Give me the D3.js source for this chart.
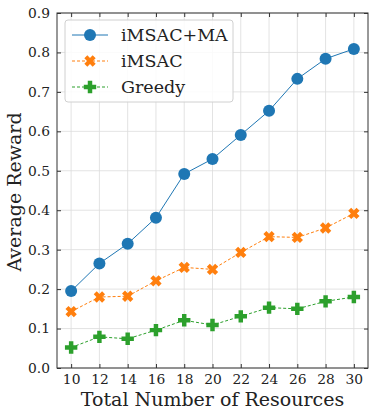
<!DOCTYPE html>
<html><head><meta charset="utf-8">
<script src="https://cdn.jsdelivr.net/npm/d3@7"></script>
<style>body{margin:0;background:#fff}svg{display:block}</style>
</head><body>
<script>
const xValues = [10,12,14,16,18,20,22,24,26,28,30];
const seriesNames = ["iMSAC+MA","iMSAC","Greedy"];
const imsacMA = [0.195,0.265,0.315,0.381,0.492,0.530,0.591,0.652,0.733,0.784,0.809];
const imsac = [0.143,0.180,0.182,0.221,0.255,0.250,0.293,0.333,0.331,0.355,0.392];
const greedy = [0.052,0.079,0.074,0.096,0.121,0.109,0.131,0.153,0.150,0.169,0.180];
const yTicks = [0,0.1,0.2,0.3,0.4,0.5,0.6,0.7,0.8,0.9];
const colors = ["#1f77b4","#ff7f0e","#2ca02c"];
const markers = ["circle","x","plus"];
const dashes = [null,"3,2","3,2"];

const W=374,H=415;
const m={l:57,r:6,t:13,b:47};
const svg=d3.select("body").append("svg").attr("width",W).attr("height",H);
const x=d3.scaleLinear().domain([9,31]).range([m.l,W-m.r]);
const y=d3.scaleLinear().domain([0,0.9]).range([H-m.b,m.t]);
const font="DejaVu Serif, serif";

// grid
svg.append("g").selectAll("line").data(xValues).join("line")
  .attr("x1",d=>x(d)).attr("x2",d=>x(d)).attr("y1",m.t).attr("y2",H-m.b)
  .attr("stroke","#dcdcdc").attr("stroke-width",0.8);
svg.append("g").selectAll("line").data(yTicks).join("line")
  .attr("y1",d=>y(d)).attr("y2",d=>y(d)).attr("x1",m.l).attr("x2",W-m.r)
  .attr("stroke","#dcdcdc").attr("stroke-width",0.8);

// axes
function styleAxis(g){g.select(".domain").remove();g.selectAll("line").attr("stroke","#333").attr("stroke-width",1);
  g.selectAll("text").attr("font-family",font).attr("font-size",13.8).attr("fill","#222");}
svg.append("g").attr("transform",`translate(0,${H-m.b})`)
  .call(d3.axisBottom(x).tickValues(xValues).tickSize(-4).tickPadding(6.5)).call(styleAxis);
svg.append("g").attr("transform",`translate(0,${m.t})`)
  .call(d3.axisTop(x).tickValues(xValues).tickSize(-4).tickFormat("")).call(styleAxis);
svg.append("g").attr("transform",`translate(${m.l},0)`)
  .call(d3.axisLeft(y).tickValues(yTicks).tickSize(-4).tickPadding(7).tickFormat(d3.format(".1f"))).call(styleAxis);
svg.append("g").attr("transform",`translate(${W-m.r},0)`)
  .call(d3.axisRight(y).tickValues(yTicks).tickSize(-4).tickFormat("")).call(styleAxis);
svg.append("rect").attr("x",m.l).attr("y",m.t).attr("width",W-m.r-m.l).attr("height",H-m.b-m.t)
  .attr("fill","none").attr("stroke","#333").attr("stroke-width",1);

function markerPath(type,s){
  const a=s, w=s*0.36;
  const pts=[[-w,-a],[w,-a],[w,-w],[a,-w],[a,w],[w,w],[w,a],[-w,a],[-w,w],[-a,w],[-a,-w],[-w,-w]];
  if(type==="plus") return "M"+pts.map(p=>p.join(",")).join("L")+"Z";
  const c=Math.SQRT1_2;
  return "M"+pts.map(p=>[(p[0]-p[1])*c*0.95,(p[0]+p[1])*c*0.95].join(",")).join("L")+"Z";
}
function drawMarker(g,type,cx,cy,color){
  if(type==="circle") g.append("circle").attr("cx",cx).attr("cy",cy).attr("r",6).attr("fill",color);
  else g.append("path").attr("d",markerPath(type,6.2)).attr("transform",`translate(${cx},${cy})`).attr("fill",color);
}

const allSeries=[imsacMA,imsac,greedy];
const line=d3.line().x((d,i)=>x(xValues[i])).y(d=>y(d));
allSeries.forEach((s,k)=>{
  const g=svg.append("g");
  g.append("path").attr("d",line(s)).attr("fill","none").attr("stroke",colors[k]).attr("stroke-width",1)
    .attr("stroke-dasharray",dashes[k]);
  s.forEach((v,i)=>drawMarker(g,markers[k],x(xValues[i]),y(v),colors[k]));
});

// legend
const lg=svg.append("g");
lg.append("rect").attr("x",65).attr("y",20).attr("width",168).attr("height",82).attr("rx",3)
  .attr("fill","#fff").attr("fill-opacity",0.85).attr("stroke","#d0d0d0").attr("stroke-width",1);
seriesNames.forEach((n,k)=>{
  const yy=35+k*26;
  lg.append("line").attr("x1",72).attr("x2",108).attr("y1",yy).attr("y2",yy)
    .attr("stroke",colors[k]).attr("stroke-width",1).attr("stroke-dasharray",dashes[k]);
  drawMarker(lg,markers[k],90,yy,colors[k]);
  lg.append("text").attr("x",121).attr("y",yy+6).text(n).attr("font-family",font).attr("font-size",17.5).attr("fill","#222");
});

svg.append("text").attr("x",(m.l+W-m.r)/2).attr("y",405.5).attr("text-anchor","middle")
  .attr("font-family",font).attr("font-size",19).attr("fill","#222").text("Total Number of Resources");
svg.append("text").attr("transform",`translate(21,192) rotate(-90)`).attr("text-anchor","middle")
  .attr("font-family",font).attr("font-size",19).attr("fill","#222").text("Average Reward");
</script>
</body></html>
